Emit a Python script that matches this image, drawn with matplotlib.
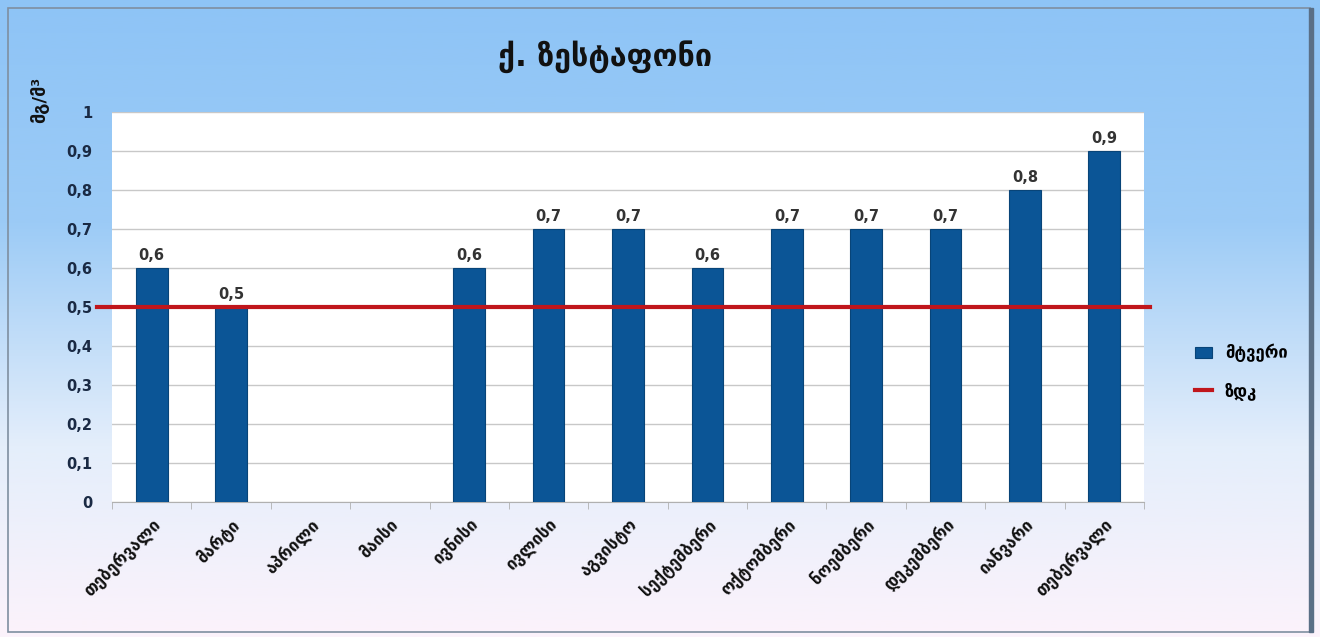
import numpy as np
import matplotlib
matplotlib.use("Agg")
import matplotlib.pyplot as plt
from matplotlib.patches import Rectangle
from matplotlib.colors import LinearSegmentedColormap

months = ["თებერვალი", "მარტი", "აპრილი", "მაისი", "ივნისი", "ივლისი", "აგვისტო",
          "სექტემბერი", "ოქტომბერი", "ნოემბერი", "დეკემბერი", "იანვარი", "თებერვალი"]
dust = [0.6, 0.5, np.nan, np.nan, 0.6, 0.7, 0.7, 0.6, 0.7, 0.7, 0.7, 0.8, 0.9]
limit = 0.5
yticks = [0, 0.1, 0.2, 0.3, 0.4, 0.5, 0.6, 0.7, 0.8, 0.9, 1.0]
title = "ქ. ზესტაფონი"
ylabel = "მგ/მ³"
series_name = "მტვერი"
limit_name = "ზდკ"

plt.rcParams['font.family'] = ['DejaVu Sans']

W, H = 1320, 637
fig = plt.figure(figsize=(W / 100, H / 100), dpi=100)

# background gradient
bg = fig.add_axes([0, 0, 1, 1], zorder=-10)
bg.set_axis_off()
cmap = LinearSegmentedColormap.from_list(
    "bg", [(0.0, "#8ec4f6"), (0.35, "#9ccbf6"), (0.7, "#e4eefb"), (1.0, "#fcf3fb")])
grad = np.linspace(0, 1, 256).reshape(-1, 1)
bg.imshow(grad, aspect="auto", cmap=cmap, extent=[0, 1, 0, 1], origin="upper")
bg.set_xlim(0, 1)
bg.set_ylim(0, 1)
# outer frame
bg.add_patch(Rectangle((8 / W, 5 / H), (W - 18) / W, (H - 13) / H, fill=False,
                       edgecolor="#7f8fa0", lw=1.2, transform=bg.transAxes))
bg.add_patch(Rectangle(((W - 11) / W, 5 / H), 4 / W, (H - 13) / H, color="#5a6f86",
                       transform=bg.transAxes))

# plot area: left 112, right 1144, top 112, bottom 502
ax = fig.add_axes([112 / W, (H - 502) / H, (1144 - 112) / W, (502 - 112) / H])
ax.set_facecolor("white")
x = np.arange(len(months))
bars = ax.bar(x, dust, width=0.4, color="#0b5596", edgecolor="#084478", lw=0.8,
              zorder=3, label=series_name)
for xi, v in zip(x, dust):
    if not np.isnan(v):
        ax.text(xi, v + 0.012, f"{v:.1f}".replace(".", ","), ha="center", va="bottom",
                fontsize=10.5, fontweight="bold", color="#333333", zorder=5)

ax.axhline(limit, xmin=-0.015, xmax=1.006, color="#c0161c", lw=3, zorder=4,
           clip_on=False, label=limit_name)

ax.set_xlim(-0.5, len(months) - 0.5)
ax.set_ylim(0, 1)
ax.set_yticks(yticks)
ax.set_yticklabels([("%g" % t).replace(".", ",") for t in yticks], fontsize=10.5,
                   fontweight="bold", color="#1a2a44")
ax.yaxis.grid(True, color="#c8c8c8", lw=1, zorder=0)
ax.set_axisbelow(True)
for s in ["top", "right", "left"]:
    ax.spines[s].set_visible(False)
ax.spines["bottom"].set_color("#b0b0b0")
ax.tick_params(axis="y", length=0, pad=14)
ax.set_xticks(x)
ax.set_xticklabels(months, rotation=45, ha="right", rotation_mode="anchor",
                   fontsize=12, fontweight="bold", color="#111111")
ax.tick_params(axis="x", length=0, pad=10)
ax.set_xticks(np.arange(len(months) + 1) - 0.5, minor=True)
ax.tick_params(axis="x", which="minor", length=5, color="#b0b0b0")

fig.text(605 / W, 1 - 57 / H, title, ha="center", va="center", fontsize=22,
         fontweight="bold", color="#111111")
fig.text(40 / W, 1 - 100 / H, ylabel, ha="center", va="center", rotation=90,
         fontsize=13, fontweight="bold", color="#111111")

leg = fig.legend(handles=[bars, ax.lines[0]], labels=[series_name, limit_name],
                 loc="center left", bbox_to_anchor=(1180 / W, 1 - 372 / H),
                 frameon=False, fontsize=12, handlelength=1.0, labelspacing=1.2)
for t in leg.get_texts():
    t.set_fontweight("bold")

fig.savefig("out.png", dpi=100)
